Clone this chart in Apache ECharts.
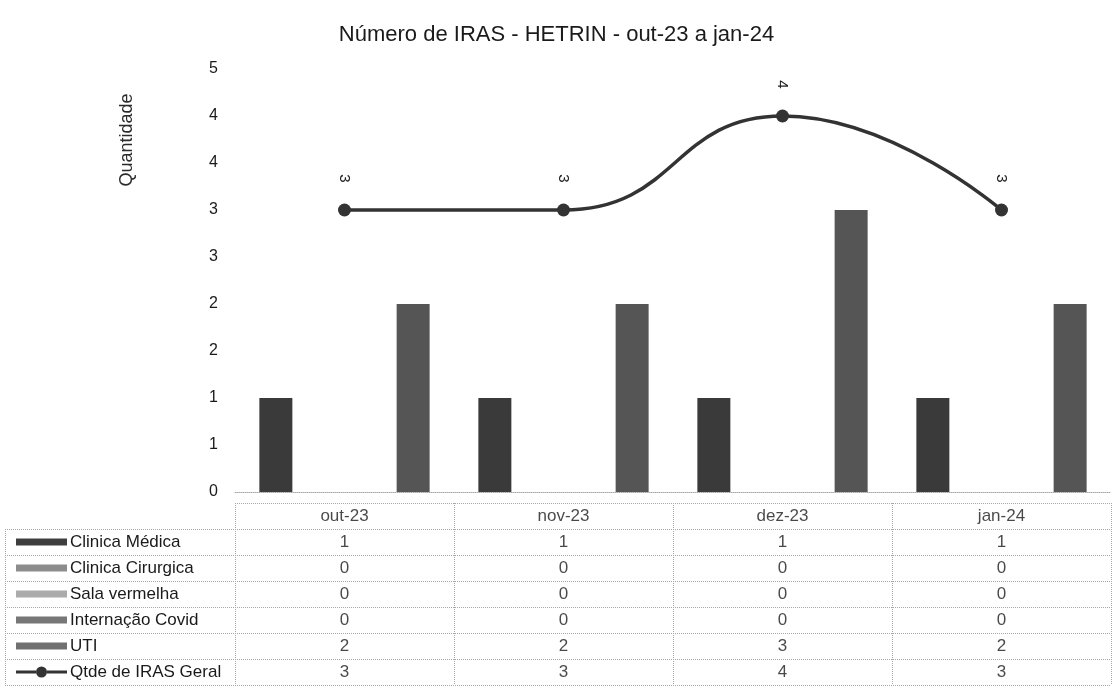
<!DOCTYPE html>
<html>
<head>
<meta charset="utf-8">
<script src="https://cdn.jsdelivr.net/npm/echarts@6/dist/echarts.min.js"></script>
<style>
  html, body { margin: 0; padding: 0; background: #ffffff; }
  #chart { width: 1113px; height: 693px; }
</style>
</head>
<body>
<div id="chart"></div>
<script>
// ---- data ----
const months = ['out-23', 'nov-23', 'dez-23', 'jan-24'];
const clinicaMedica = [1, 1, 1, 1];
const clinicaCirurgica = [0, 0, 0, 0];
const salaVermelha = [0, 0, 0, 0];
const internacaoCovid = [0, 0, 0, 0];
const uti = [2, 2, 3, 2];
const qtdeIrasGeral = [3, 3, 4, 3];
const seriesNames = ['Clinica Médica', 'Clinica Cirurgica', 'Sala vermelha', 'Internação Covid', 'UTI', 'Qtde de IRAS Geral'];
const yTickLabels = ['0', '1', '1', '2', '2', '3', '3', '4', '4', '5'];
const titleText = 'Número de IRAS - HETRIN - out-23 a jan-24';
const yAxisTitle = 'Quantidade';

// ---- styles ----
const barColors = ['#3a3a3a', '#8a8a8a', '#a8a8a8', '#747474', '#555555'];
const keyColors = ['#3e3e3e', '#8c8c8c', '#ababab', '#777777', '#707070'];
const lineColor = '#333333';
const font = 'Liberation Sans, Arial, sans-serif';
const dotted = { type: 'dotted', color: '#a8a8a8', width: 1 };

const barData = [clinicaMedica, clinicaCirurgica, salaVermelha, internacaoCovid, uti];
const tableRows = ['__hdr'].concat(seriesNames);
const allValues = barData.concat([qtdeIrasGeral]);

// table cell texts (header + values) built from the arrays
const tableCells = [];
months.forEach((m, i) => {
  tableCells.push({ value: [i, 0], txt: m });
  allValues.forEach((arr, r) => tableCells.push({ value: [i, r + 1], txt: String(arr[i]) }));
});

const rich = {
  t: { fontSize: 17, color: '#1a1a1a', fontFamily: font, padding: [0, 0, 0, 3] },
  l: { width: 20, height: 3, backgroundColor: lineColor },
  d: { width: 11, height: 11, borderRadius: 6, backgroundColor: lineColor }
};
keyColors.forEach((c, i) => { rich['k' + i] = { width: 51, height: 7, backgroundColor: c }; });

const series = barData.map((arr, i) => ({
  name: seriesNames[i],
  type: 'bar',
  xAxisIndex: 0, yAxisIndex: 0,
  data: arr,
  barWidth: 33,
  barGap: '4%',
  itemStyle: { color: barColors[i] }
}));

series.push({
  name: seriesNames[5],
  type: 'line',
  xAxisIndex: 0, yAxisIndex: 0,
  data: qtdeIrasGeral,
  smooth: 0.5,
  symbol: 'circle',
  symbolSize: 13,
  lineStyle: { color: lineColor, width: 3.5 },
  itemStyle: { color: lineColor },
  label: {
    show: true, position: 'top', distance: 25, rotate: -90,
    align: 'center', verticalAlign: 'middle',
    fontSize: 15, color: '#1a1a1a', fontFamily: font
  },
  z: 5
});

series.push({
  type: 'scatter',
  xAxisIndex: 1, yAxisIndex: 1,
  symbol: 'circle', symbolSize: 1,
  itemStyle: { color: 'rgba(0,0,0,0)' },
  data: tableCells,
  label: {
    show: true, position: 'inside',
    formatter: p => p.data.txt,
    fontSize: 17, color: '#1a1a1a', fontFamily: font
  },
  silent: true
});

const chart = echarts.init(document.getElementById('chart'), null, { renderer: 'canvas' });
chart.setOption({
  animation: false,
  backgroundColor: '#ffffff',
  title: {
    text: titleText, left: 'center', top: 19,
    textStyle: { fontSize: 22, fontWeight: 'normal', color: '#1a1a1a', fontFamily: font }
  },
  graphic: [{
    type: 'text', x: 127, y: 140, rotation: Math.PI / 2,
    style: { text: yAxisTitle, align: 'center', verticalAlign: 'middle', fontSize: 18, fill: '#2a2a2a', fontFamily: font }
  }],
  grid: [
    { left: 235, right: 2, top: 69, bottom: 201 },
    { left: 235, right: 2, top: 503, height: 182 },
    { left: 5, width: 230, top: 529, height: 156 }
  ],
  xAxis: [
    { type: 'category', gridIndex: 0, data: months,
      axisLine: { lineStyle: dotted }, axisTick: { show: false }, axisLabel: { show: false } },
    { type: 'category', gridIndex: 1, data: months,
      axisLine: { show: false }, axisTick: { show: false }, axisLabel: { show: false },
      splitLine: { show: true, lineStyle: dotted } },
    { type: 'category', gridIndex: 2, data: [''],
      axisLine: { show: false }, axisTick: { show: false }, axisLabel: { show: false },
      splitLine: { show: true, lineStyle: dotted } }
  ],
  yAxis: [
    { type: 'value', gridIndex: 0, min: 0, max: 4.5, interval: 0.5,
      axisLine: { show: false }, axisTick: { show: false }, splitLine: { show: false },
      axisLabel: { margin: 17, fontSize: 16, color: '#1a1a1a', fontFamily: font,
        formatter: v => yTickLabels[Math.round(v / 0.5)] } },
    { type: 'category', gridIndex: 1, data: tableRows, inverse: true,
      axisLine: { show: false }, axisTick: { show: false }, axisLabel: { show: false },
      splitLine: { show: true, lineStyle: dotted } },
    { type: 'category', gridIndex: 2, data: seriesNames, inverse: true,
      axisLine: { show: false }, axisTick: { show: false },
      splitLine: { show: true, lineStyle: dotted },
      axisLabel: { inside: true, margin: 11, align: 'left', rich: rich,
        formatter: (v, i) => i < 5 ? '{k' + i + '|}{t|' + v + '}' : '{l|}{d|}{l|}{t|' + v + '}' } }
  ],
  series: series
});
</script>
</body>
</html>
